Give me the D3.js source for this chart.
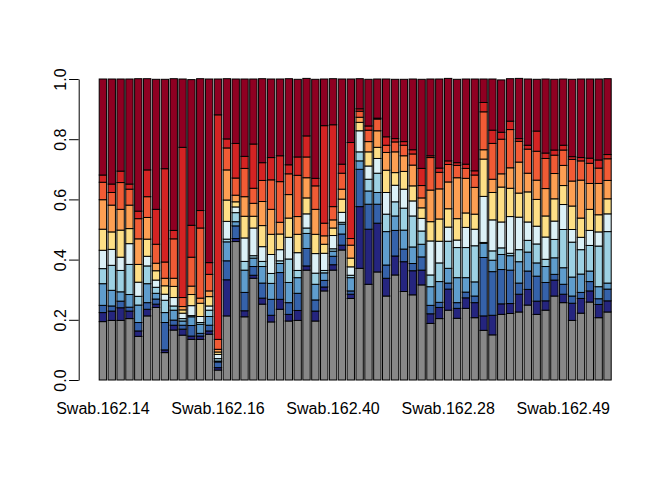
<!DOCTYPE html>
<html>
<head>
<meta charset="utf-8">
<script src="https://cdn.jsdelivr.net/npm/d3@7"></script>
<style>
  body { margin: 0; background: #fff; }
  svg text { font-family: "Liberation Sans", Arial, Helvetica, sans-serif; font-size: 16px; fill: #000; }
</style>
</head>
<body>
<svg id="bar-chart" width="672" height="480"></svg>
<script>
// Sample names (only every 13th one fits under the bars)
const samples = [
  "Swab.162.14", "Swab.162.22", "Swab.162.09", "Swab.162.31", "Swab.162.05", "Swab.162.18", "Swab.162.03", "Swab.162.37", "Swab.162.11", "Swab.162.25",
  "Swab.162.07", "Swab.162.33", "Swab.162.20", "Swab.162.16", "Swab.162.42", "Swab.162.01", "Swab.162.27", "Swab.162.12", "Swab.162.35", "Swab.162.04",
  "Swab.162.19", "Swab.162.45", "Swab.162.08", "Swab.162.30", "Swab.162.13", "Swab.162.38", "Swab.162.40", "Swab.162.02", "Swab.162.24", "Swab.162.47",
  "Swab.162.10", "Swab.162.36", "Swab.162.06", "Swab.162.29", "Swab.162.15", "Swab.162.43", "Swab.162.21", "Swab.162.52", "Swab.162.17", "Swab.162.28",
  "Swab.162.34", "Swab.162.23", "Swab.162.50", "Swab.162.39", "Swab.162.26", "Swab.162.44", "Swab.162.32", "Swab.162.53", "Swab.162.41", "Swab.162.46",
  "Swab.162.54", "Swab.162.48", "Swab.162.49", "Swab.162.51", "Swab.162.55", "Swab.162.56", "Swab.162.57", "Swab.162.58"
]

// Relative abundance of each layer, bottom to top
const grey = [
  .194, .198, .198, .204, .145, .213, .241, .091, .166, .149,
  .135, .135, .152, .033, .213, .460, .210, .338, .252, .193,
  .235, .196, .198, .365, .196, .296, .365, .432, .271, .371,
  .318, .359, .279, .349, .294, .283, .316, .188, .204, .232,
  .205, .238, .207, .165, .150, .218, .221, .226, .249, .218,
  .232, .279, .257, .198, .222, .259, .207, .226]
const navy = [
  .030, .031, .042, .025, .018, .022, .011, .009, .016, .020,
  .011, .011, .011, .008, .120, .010, .020, .010, .020, .022,
  .033, .022, .033, .014, .033, .013, .018, .016, .014, .205,
  .183, .162, .059, .063, .099, .080, .049, .032, .037, .070,
  .033, .035, .050, .048, .065, .035, .033, .059, .052, .044,
  .031, .053, .028, .057, .049, .037, .044, .037]
const blue = [
  .024, .017, .022, .013, .028, .022, .017, .091, .017, .013,
  .035, .009, .019, .019, .063, .042, .061, .029, .050, .053,
  .089, .039, .057, .058, .037, .022, .028, .037, .011, .124,
  .083, .063, .044, .085, .042, .024, .044, .028, .017, .020,
  .019, .019, .022, .194, .145, .114, .111, .037, .061, .083,
  .061, .019, .033, .024, .020, .031, .019, .039]
const steel = [
  .072, .052, .031, .042, .058, .063, .019, .033, .033, .014,
  .029, .030, .029, .003, .063, .014, .074, .028, .055, .053,
  .030, .067, .052, .050, .052, .025, .017, .033, .044, .028,
  .044, .039, .111, .048, .063, .055, .042, .062, .069, .049,
  .083, .048, .047, .047, .038, .050, .048, .071, .063, .044,
  .053, .055, .055, .063, .061, .035, .040, .020]
const sky = [
  .050, .083, .071, .100, .029, .059, .020, .041, .014, .008,
  .004, .006, .021, .008, .009, .030, .029, .008, .017, .033,
  .009, .078, .024, .018, .037, .008, .008, .006, .008, .030,
  .039, .064, .058, .047, .073, .103, .044, .039, .062, .090,
  .100, .100, .120, .003, .031, .022, .008, .040, .039, .063,
  .024, .061, .127, .116, .081, .085, .135, .171]
const pale = [
  .061, .053, .044, .069, .047, .032, .024, .020, .028, .018,
  .033, .020, .014, .014, .059, .019, .078, .092, .049, .063,
  .037, .072, .059, .047, .065, .057, .044, .033, .028, .070,
  .044, .049, .072, .055, .063, .050, .042, .113, .072, .047,
  .025, .067, .055, .153, .103, .086, .122, .108, .061, .059,
  .074, .061, .083, .042, .041, .050, .047, .059]
const yellow = [
  .070, .058, .090, .050, .059, .057, .031, .028, .037, .011,
  .037, .044, .031, .008, .071, .017, .072, .039, .070, .067,
  .052, .064, .061, .053, .064, .030, .025, .044, .029, .028,
  .047, .037, .074, .042, .059, .050, .035, .064, .074, .061,
  .071, .048, .050, .124, .091, .116, .094, .080, .100, .089,
  .070, .074, .063, .078, .064, .070, .057, .050]
const orange = [
  .098, .089, .069, .078, .085, .072, .025, .025, .027, .011,
  .028, .017, .019, .009, .100, .022, .065, .043, .080, .083,
  .039, .078, .059, .067, .083, .028, .027, .033, .043, .017,
  .034, .055, .059, .069, .052, .069, .033, .105, .100, .089,
  .136, .115, .089, .031, .044, .044, .068, .103, .062, .064,
  .091, .084, .067, .083, .126, .086, .104, .061]
const coral = [
  .058, .042, .089, .053, .067, .069, .063, .054, .131, .030,
  .096, .233, .055, .033, .073, .057, .094, .050, .070, .098,
  .135, .069, .137, .069, .078, .042, .044, .053, .022, .020,
  .038, .039, .024, .033, .035, .037, .041, .108, .055, .058,
  .041, .033, .041, .126, .119, .115, .127, .069, .080, .096,
  .100, .061, .051, .072, .064, .067, .051, .072]
const red = [
  .024, .028, .038, .017, .025, .089, .116, .310, .028, .499,
  .106, .058, .039, .746, .030, .115, .040, .147, .059, .074,
  .086, .030, .061, .070, .025, .324, .272, .030, .319, .008,
  .014, .003, .028, .011, .012, .014, .057, .006, .014, .012,
  .009, .014, .014, .031, .044, .023, .028, .009, .013, .067,
  .018, .017, .016, .009, .011, .017, .027, .014]
const crimson = [
  .319, .349, .306, .349, .440, .303, .432, .297, .504, .227,
  .484, .438, .610, .119, .200, .214, .257, .216, .279, .261,
  .255, .286, .258, .191, .329, .155, .153, .283, .211, .100,
  .155, .130, .192, .197, .207, .235, .296, .255, .296, .274,
  .277, .283, .305, .078, .170, .174, .141, .200, .220, .172,
  .246, .235, .220, .257, .261, .263, .269, .252]

const layerNames = ["grey", "navy", "blue", "steel", "sky", "pale", "yellow", "orange", "coral", "red", "crimson"]
const layerValues = [grey, navy, blue, steel, sky, pale, yellow, orange, coral, red, crimson]
const layerColors = ["#888888", "#25257f", "#3562aa", "#5f9dcd", "#9dd1e3", "#dcf1f7", "#fedf86", "#fd9f53", "#f15b35", "#d42323", "#8f0022"]
const yTicks = [0, 0.2, 0.4, 0.6, 0.8, 1.0]

// Build the table d3.stack wants
let table = samples.map((s, i) => {
  let row = {sample: s}
  layerNames.forEach((k, j) => { row[k] = layerValues[j][i] })
  return row
})

let svg = d3.select("#bar-chart")

// Scales: bars of width 1 with 0.2 gaps, like barplot()
let x = d3.scaleBand()
  .domain(samples)
  .range([98.46, 611.94])
  .paddingInner(1 / 6)
  .paddingOuter(1 / 12)
let y = d3.scaleLinear().domain([0, 1]).range([380, 79])
let z = d3.scaleOrdinal().domain(layerNames).range(layerColors)

let series = d3.stack().keys(layerNames)(table)

// Draw the stacked bars
let layer = svg.selectAll(".layer")
  .data(series)
  .enter().append("g")
    .attr("class", "layer")
    .attr("fill", (d) => { return z(d.key) })

layer.selectAll("rect")
  .data((d) => { return d })
  .enter().append("rect")
    .attr("x", (d) => { return x(d.data.sample) })
    .attr("y", (d) => { return y(d[1]) })
    .attr("width", x.bandwidth())
    .attr("height", (d) => { return y(d[0]) - y(d[1]) })
    .attr("stroke", "#000")
    .attr("stroke-width", 1)

// y axis with rotated labels
let yAxis = svg.append("g")
    .attr("transform", "translate(78.7,0)")
    .style("color", "#000")
    .call(d3.axisLeft(y).tickValues(yTicks).tickFormat(d3.format(".1f")).tickSize(9.6).tickSizeOuter(0))

yAxis.select(".domain").attr("stroke-width", 1)
yAxis.selectAll(".tick text")
    .attr("x", 0)
    .attr("dy", 0)
    .attr("transform", "translate(-13.2,0) rotate(-90)")
    .attr("text-anchor", "middle")
    .style("font-size", "16px")
    .style("font-family", "'Liberation Sans', Arial, Helvetica, sans-serif")

// Sample names under the bars, every 13th one
svg.append("g")
  .selectAll("text")
  .data(samples.filter((d, i) => { return i % 13 === 0 }))
  .enter().append("text")
    .attr("x", (d) => { return x(d) + x.bandwidth() / 2 })
    .attr("y", 414)
    .attr("text-anchor", "middle")
    .text((d) => { return d })
</script>
</body>
</html>
